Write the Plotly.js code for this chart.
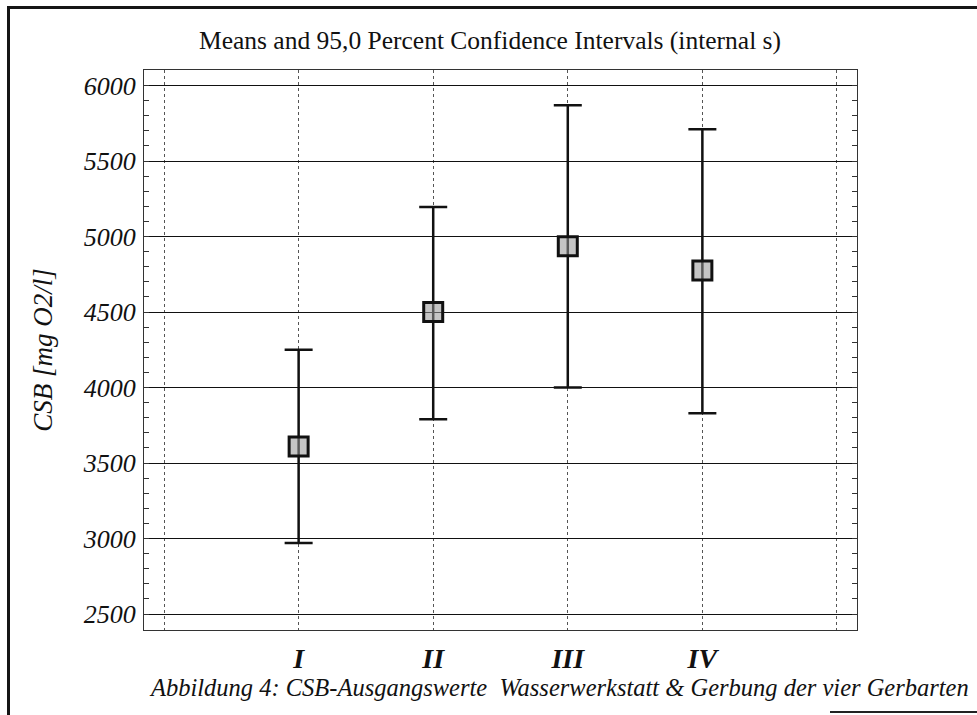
<!DOCTYPE html>
<html>
<head>
<meta charset="utf-8">
<script src="https://cdn.plot.ly/plotly-3.0.1.min.js"></script>
<style>
  html, body { margin: 0; padding: 0; background: #fff; }
  #wrap { position: relative; width: 977px; height: 715px; overflow: hidden; }
  #chart { position: absolute; left: 0; top: 0; width: 977px; height: 715px; }
  #frame { position: absolute; left: 7px; top: 6px; width: 980px; height: 710px;
           border-left: 3px solid #151515; border-top: 3px solid #151515; pointer-events: none; }
  #bot { position: absolute; left: 830px; top: 711px; width: 147px; height: 2px; background: #222; }
</style>
</head>
<body>
<div id="wrap">
  <div id="chart"></div>
  <div id="frame"></div>
  <div id="bot"></div>
</div>
<script>
// ---- data ----
const categories = ['I', 'II', 'III', 'IV'];
const catPositions = [1, 2, 3, 4];
const means = [3610, 4500, 4935, 4775];
const lowerCI = [2970, 3790, 4000, 3830];
const upperCI = [4250, 5195, 5870, 5710];
const yTicks = [2500, 3000, 3500, 4000, 4500, 5000, 5500, 6000];
const xGridPositions = [0, 1, 2, 3, 4, 5];

const titleText = 'Means and 95,0 Percent Confidence Intervals (internal s)';
const yTitle = 'CSB [mg O2/l]';
const caption = 'Abbildung 4: CSB-Ausgangswerte&nbsp;&nbsp;Wasserwerkstatt &amp; Gerbung der vier Gerbarten';

const serif = 'Liberation Serif';

const errPlus = upperCI.map((u, i) => u - means[i]);
const errMinus = lowerCI.map((l, i) => means[i] - l);

const xTickText = xGridPositions.map(p => {
  const idx = catPositions.indexOf(p);
  return idx >= 0 ? '<b><i>' + categories[idx] + '</i></b>' : '';
});

const trace = {
  type: 'scatter',
  mode: 'markers',
  x: catPositions,
  y: means,
  marker: {
    symbol: 'square',
    size: 19,
    color: 'rgba(150,150,150,0.55)',
    line: { color: '#111', width: 3 }
  },
  error_y: {
    type: 'data',
    symmetric: false,
    array: errPlus,
    arrayminus: errMinus,
    color: '#111',
    thickness: 2.5,
    width: 14
  },
  hoverinfo: 'none',
  showlegend: false
};

const layout = {
  width: 977,
  height: 715,
  paper_bgcolor: '#fff',
  plot_bgcolor: '#fff',
  margin: { l: 144, r: 120, t: 70, b: 85 },
  font: { family: serif, color: '#111' },
  title: {
    text: titleText,
    font: { family: serif, size: 25.5, color: '#111' },
    xref: 'container', yref: 'container',
    x: 490 / 977, xanchor: 'center',
    y: 1 - 40 / 715, yanchor: 'middle'
  },
  xaxis: {
    range: [-0.149, 5.149],
    tickvals: xGridPositions,
    ticktext: xTickText,
    tickfont: { family: serif, size: 28, color: '#111' },
    ticks: '',
    ticklabelstandoff: 3,
    showgrid: true,
    gridcolor: '#555',
    griddash: 'dot',
    gridwidth: 1,
    showline: true,
    linecolor: '#333',
    linewidth: 1,
    mirror: true,
    zeroline: false,
    fixedrange: true
  },
  yaxis: {
    range: [2394, 6103],
    tickvals: yTicks,
    ticktext: yTicks.map(v => '<i>' + v + '</i>'),
    tickfont: { family: serif, size: 26, color: '#111' },
    ticks: 'inside',
    ticklen: 5,
    tickcolor: '#333',
    ticklabelstandoff: 2,
    minor: { dtick: 100, tick0: 0, ticks: 'inside', ticklen: 5, tickcolor: '#333', showgrid: false },
    showgrid: true,
    gridcolor: '#111',
    gridwidth: 1,
    showline: true,
    linecolor: '#333',
    linewidth: 1,
    mirror: 'allticks',
    zeroline: false,
    title: {
      text: '<i>' + yTitle + '</i>',
      font: { family: serif, size: 27, color: '#111' },
      standoff: 22
    },
    automargin: false,
    fixedrange: true
  },
  annotations: [{
    text: '<i>' + caption + '</i>',
    xref: 'paper', yref: 'paper',
    x: (147 - 144) / 713, xanchor: 'left',
    y: -(687 - 630) / 560, yanchor: 'middle',
    showarrow: false,
    font: { family: serif, size: 24.5, color: '#111' }
  }]
};

Plotly.newPlot('chart', [trace], layout, { displayModeBar: false, staticPlot: true });
</script>
</body>
</html>
